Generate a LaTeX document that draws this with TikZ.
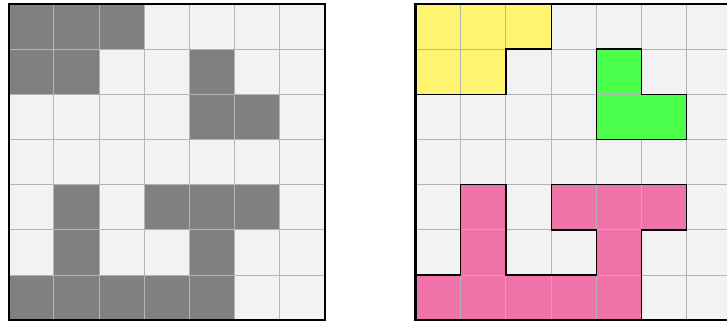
\documentclass[tikz,border=0pt]{standalone}
\usepackage{xcolor}
\usetikzlibrary{calc}

\definecolor{emptycell}{HTML}{F2F2F2}
\definecolor{filledcell}{HTML}{808080}
\definecolor{gridgray}{HTML}{B4B4B4}
\definecolor{pieceyellow}{HTML}{FFF372}
\definecolor{piecegreen}{HTML}{4CFF4C}
\definecolor{piecepink}{HTML}{F073AA}

\begin{document}
\begin{tikzpicture}[
    gridline/.style={draw=gridgray, line width=0.6pt},
    frame/.style={draw=black, line width=1.3pt},
    piece/.style={draw=black, line width=0.8pt, line join=miter}
]

% Picture area (right board runs past the edge)
\useasboundingbox (-0.19,-0.04) rectangle (15.89,7.085);
\clip (-0.19,-0.04) rectangle (15.89,7.085);

% Left board - occupied cells
\fill[emptycell] (0,0) rectangle (7,7);
\foreach \c/\r in {0/0,1/0,2/0, 0/1,1/1,4/1, 4/2,5/2, 1/4,3/4,4/4,5/4, 1/5,4/5, 0/6,1/6,2/6,3/6,4/6}
    \fill[filledcell] (\c,6-\r) rectangle ++(1,1);
\draw[gridline] (0,0) grid (7,7);
\draw[frame] (0,0) rectangle (7,7);

% Right board - pieces
\begin{scope}[xshift=9cm]
\fill[emptycell] (0,0) rectangle (7,7);
\fill[pieceyellow] (0,7) -- (3,7) -- (3,6) -- (2,6) -- (2,5) -- (0,5) -- cycle;
\fill[piecegreen] (4,6) -- (5,6) -- (5,5) -- (6,5) -- (6,4) -- (4,4) -- cycle;
\fill[piecepink] (0,1) -- (1,1) -- (1,3) -- (2,3) -- (2,1) -- (4,1) -- (4,2) -- (3,2) -- (3,3) -- (6,3) -- (6,2) -- (5,2) -- (5,0) -- (0,0) -- cycle;
\draw[gridline] (0,0) grid (7,7);
\draw[piece] (0,7) -- (3,7) -- (3,6) -- (2,6) -- (2,5) -- (0,5) -- cycle;
\draw[piece] (4,6) -- (5,6) -- (5,5) -- (6,5) -- (6,4) -- (4,4) -- cycle;
\draw[piece] (0,1) -- (1,1) -- (1,3) -- (2,3) -- (2,1) -- (4,1) -- (4,2) -- (3,2) -- (3,3) -- (6,3) -- (6,2) -- (5,2) -- (5,0) -- (0,0) -- cycle;
\draw[frame] (0,0) rectangle (7,7);
\end{scope}

\end{tikzpicture}
\end{document}
